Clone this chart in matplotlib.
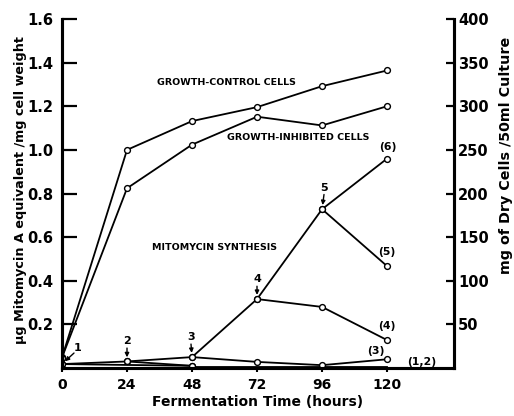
import matplotlib
matplotlib.use("Agg")
import matplotlib.pyplot as plt

hours = [0, 24, 48, 72, 96, 120]
hour_ticks = [0, 24, 48, 72, 96, 120]
left_ticks = [0.2, 0.4, 0.6, 0.8, 1.0, 1.2, 1.4, 1.6]
right_ticks = [50, 100, 150, 200, 250, 300, 350, 400]

# Growth (mg dry cells / 50 ml culture, right axis)
growth_control = [12, 250, 283, 299, 323, 341]
growth_inhibited = [12, 206, 256, 288, 278, 300]

# Mitomycin synthesis (ug / mg cell weight, left axis)
synth_main_x = [0, 24, 48, 72, 96, 120]
synth_main_y = [0.018, 0.03, 0.05, 0.316, 0.728, 0.96]
curve1_x = [0, 48]
curve1_y = [0.018, 0.01]
curve2_x = [24, 48]
curve2_y = [0.03, 0.01]
curve12_tail_x = [48, 120]
curve12_tail_y = [0.004, 0.004]
curve3_x = [48, 72, 96, 120]
curve3_y = [0.05, 0.028, 0.013, 0.04]
curve4_x = [72, 96, 120]
curve4_y = [0.316, 0.28, 0.128]
curve5_x = [96, 120]
curve5_y = [0.728, 0.467]
start_point_y = 0.05

plt.rcParams['font.family'] = ['DejaVu Sans']
fig = plt.figure(figsize=(5.14, 4.16), dpi=100)
ax = fig.add_axes([62/514, 48/416, (454-62)/514, (368-19)/416])
ax2 = ax.twinx()

mk = dict(color='black', lw=1.3, marker='o', ms=4.2, mfc='white', mec='black', mew=1.0)
ax2.plot(hours, growth_control, **mk)
ax2.plot(hours, growth_inhibited, **mk)

ax.plot(curve12_tail_x, curve12_tail_y, color='black', lw=1.3)
ax.plot(curve1_x, curve1_y, **mk)
ax.plot(curve2_x, curve2_y, **mk)
ax.plot(curve3_x, curve3_y, **mk)
ax.plot(curve4_x, curve4_y, **mk)
ax.plot(curve5_x, curve5_y, **mk)
ax.plot(synth_main_x, synth_main_y, **mk)
ax.plot([0], [start_point_y], **mk)

ax.set_xlim(0, 144.7)
ax.set_ylim(0, 1.6)
ax2.set_ylim(0, 400)

for a in (ax, ax2):
    a.spines['top'].set_visible(False)
    for s in ('left', 'right', 'bottom'):
        a.spines[s].set_linewidth(2.2)

ax.set_xticks(hour_ticks)
ax.set_xticklabels([str(h) for h in hour_ticks], fontsize=10, fontweight='bold')
ax.tick_params(axis='x', direction='out', length=3, width=1.5, pad=4)
ax.set_yticks(left_ticks)
ax.set_yticklabels([f"{v:.1f}" for v in left_ticks], fontsize=10.5, fontweight='bold')
ax.tick_params(axis='y', direction='in', length=10.5, width=1.6, pad=6)
ax2.set_yticks(right_ticks)
ax2.set_yticklabels([str(v) for v in right_ticks], fontsize=10.5, fontweight='bold')
ax2.tick_params(axis='y', direction='in', length=6, width=1.6, pad=3)

ax.set_xlabel('Fermentation Time (hours)', fontsize=10, fontweight='bold', labelpad=2)
fig.text(21/514, 1-190/416, 'μg Mitomycin A equivalent /mg cell weight', rotation=90,
         fontsize=9.2, fontweight='bold', ha='center', va='center')
fig.text(506/514, 1-155/416, 'mg of Dry Cells /50ml Culture', rotation=90,
         fontsize=10.3, fontweight='bold', ha='center', va='center')

def px2data(px, py):
    return ((px - 62) / ((454 - 62) / 144.7), (368 - py) / (350 / 1.6))

def txt(s, px, py, fs=6.8, ha='center'):
    x, y = px2data(px, py)
    ax.text(x, y, s, fontsize=fs, fontweight='bold', ha=ha, va='center')

txt('GROWTH-CONTROL CELLS', 157, 82, ha='left')
txt('GROWTH-INHIBITED CELLS', 227, 137, ha='left')
txt('MITOMYCIN SYNTHESIS', 152, 247, ha='left')
txt('(6)', 388, 146, fs=7.8)
txt('(5)', 387, 252, fs=7.8)
txt('(4)', 387, 326, fs=7.8)
txt('(3)', 376, 351, fs=7.8)
txt('(1,2)', 422, 362, fs=7.8)

arrows = [('1', 78, 348, 74, 353, 0, 0.018),
          ('2', 127, 341, 127, 348, 24, 0.03),
          ('3', 191, 337, 191, 344, 48, 0.05),
          ('4', 257, 279, 257, 286, 72, 0.316),
          ('5', 324, 187, 324, 194, 96, 0.728)]
for lab, tx, ty, sx, sy, hx, hy in arrows:
    txt(lab, tx, ty, fs=8)
    x0, y0 = px2data(sx, sy)
    ax.annotate('', xy=(hx, hy), xytext=(x0, y0),
                arrowprops=dict(arrowstyle='-|>', color='black', lw=1.0,
                                mutation_scale=6, shrinkA=0, shrinkB=3))

fig.savefig('out.png', dpi=100)
